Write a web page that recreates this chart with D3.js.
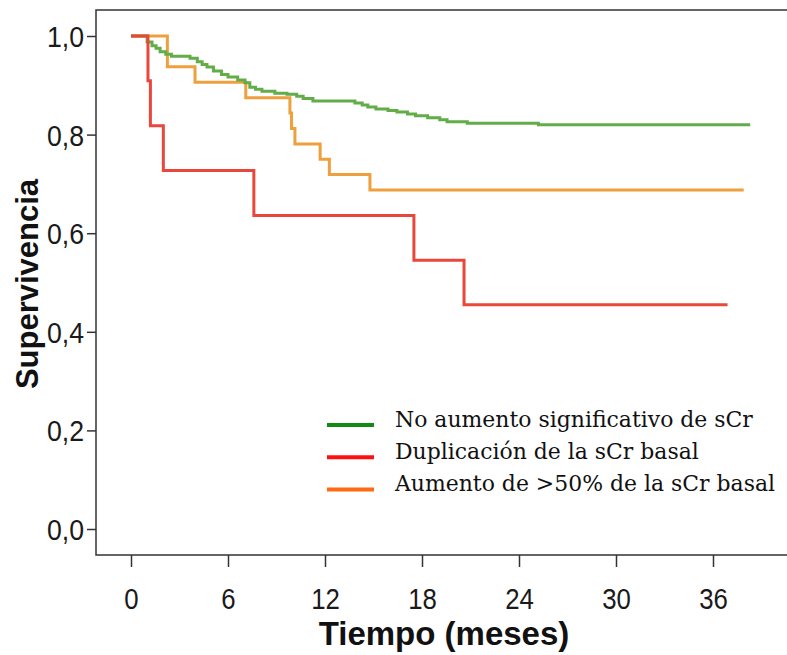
<!DOCTYPE html>
<html>
<head>
<meta charset="utf-8">
<script src="https://cdn.jsdelivr.net/npm/d3@7"></script>
<style>
  body { margin: 0; background: #fff; }
  svg { display: block; }
</style>
</head>
<body>
<div id="chart"></div>
<script>
// Kaplan-Meier curves: step times (months) and survival after each step
var greenTimes = [0, 1.0, 1.3, 1.55, 1.8, 2.15, 2.5, 3.65, 4.1, 4.4, 4.7, 5.1, 5.6, 6.0, 6.6, 7.05, 7.35, 7.7, 8.1, 8.9, 9.65, 10.25, 10.65, 11.25, 13.85, 14.3, 14.65, 15.15, 15.9, 16.45, 17.1, 17.6, 18.35, 19.1, 19.55, 20.8, 25.2, 38.3];
var greenSurv  = [1, 0.988, 0.98, 0.975, 0.968, 0.963, 0.959, 0.955, 0.948, 0.942, 0.937, 0.929, 0.922, 0.917, 0.911, 0.905, 0.896, 0.892, 0.888, 0.884, 0.882, 0.878, 0.873, 0.868, 0.864, 0.86, 0.856, 0.852, 0.849, 0.846, 0.842, 0.838, 0.834, 0.83, 0.826, 0.823, 0.82, 0.82];

var redTimes = [0, 1.05, 1.2, 2.0, 7.6, 17.5, 20.6, 36.9];
var redSurv  = [1, 0.909, 0.818, 0.727, 0.636, 0.545, 0.455, 0.455];

var orangeTimes = [0, 2.25, 3.96, 7.1, 9.83, 9.93, 10.14, 11.7, 12.27, 14.78, 37.9];
var orangeSurv  = [1, 0.9375, 0.906, 0.875, 0.844, 0.8125, 0.781, 0.75, 0.719, 0.6875, 0.6875];

var xTicks = [0, 6, 12, 18, 24, 30, 36];
var yTicks = [0, 0.2, 0.4, 0.6, 0.8, 1.0];

var legendLabels = ["No aumento significativo de sCr", "Duplicación de la sCr basal", "Aumento de >50% de la sCr basal"];
var legendColors = ["#138a13", "#ff1010", "#ff6a10"];

var width = 787, height = 655;
var frame = { left: 96, top: 10, bottom: 555 };
var sansFont = "'Liberation Sans', Arial, sans-serif";

var xScale = d3.scaleLinear().domain([0, 36]).range([131, 713]);
var yScale = d3.scaleLinear().domain([0, 1]).range([529, 36]);

var svg = d3.select("#chart").append("svg")
    .attr("width", width)
    .attr("height", height);

var defs = svg.append("defs");
var blur = defs.append("filter").attr("id", "shadow")
    .attr("x", "-20%").attr("y", "-200%").attr("width", "140%").attr("height", "500%");
blur.append("feGaussianBlur").attr("stdDeviation", 2);

// frame (right side runs off the picture)
svg.append("path")
    .attr("d", "M800," + frame.top + "H" + frame.left + "V" + frame.bottom + "H800")
    .attr("fill", "none")
    .attr("stroke", "#333")
    .attr("stroke-width", 1.5);

// axes
var yAxis = d3.axisLeft(yScale)
    .tickValues(yTicks)
    .tickSize(9)
    .tickFormat(function(d){ return d3.format(".1f")(d).replace(".", ","); });

var gy = svg.append("g")
    .attr("transform", "translate(" + frame.left + ",0)")
    .call(yAxis);
gy.select(".domain").remove();
gy.selectAll("line").attr("stroke", "#333").attr("stroke-width", 1.5);
gy.selectAll("text")
    .attr("x", 0)
    .attr("dy", "0.36em")
    .attr("transform", "translate(-12,0) scale(0.92,1)")
    .attr("fill", "#1a1a1a")
    .style("font-family", sansFont)
    .style("font-size", "29px");

var xAxis = d3.axisBottom(xScale)
    .tickValues(xTicks)
    .tickSize(12);

var gx = svg.append("g")
    .attr("transform", "translate(0," + frame.bottom + ")")
    .call(xAxis);
gx.select(".domain").remove();
gx.selectAll("line").attr("stroke", "#333").attr("stroke-width", 1.5);
gx.selectAll("text")
    .attr("y", 54)
    .attr("dy", 0)
    .attr("transform", "scale(0.86,1)")
    .attr("fill", "#1a1a1a")
    .style("font-family", sansFont)
    .style("font-size", "30px");

// axis titles
svg.append("text")
    .attr("transform", "translate(38,284) rotate(-90)")
    .attr("text-anchor", "middle")
    .style("font-family", sansFont)
    .style("font-weight", "bold")
    .style("font-size", "31px")
    .attr("fill", "#111")
    .text("Supervivencia");

svg.append("text")
    .attr("x", 444)
    .attr("y", 645)
    .attr("text-anchor", "middle")
    .style("font-family", sansFont)
    .style("font-weight", "bold")
    .style("font-size", "33px")
    .attr("fill", "#111")
    .text("Tiempo (meses)");

// curves
var line = d3.line()
    .x(function(d){ return xScale(d[0]); })
    .y(function(d){ return yScale(d[1]); })
    .curve(d3.curveStepAfter);

var curves = [
    { times: orangeTimes, surv: orangeSurv, color: "#eea03c" },
    { times: greenTimes, surv: greenSurv, color: "#62ad48" },
    { times: redTimes, surv: redSurv, color: "#e9473b" }
];

curves.forEach(function(c){
    var pts = c.times.map(function(t, i){ return [t, c.surv[i]]; });
    svg.append("path")
        .datum(pts)
        .attr("d", line)
        .attr("fill", "none")
        .attr("stroke", c.color)
        .attr("stroke-width", 3);
});

// legend
var legend = svg.append("g").attr("transform", "translate(327,425)");
var legendText = [];
legendLabels.forEach(function(label, i){
    var g = legend.append("g").attr("transform", "translate(0," + (i * 32.2) + ")");
    g.append("line")
        .attr("x1", 1).attr("x2", 48).attr("y1", 6).attr("y2", 6)
        .attr("stroke", "#999")
        .attr("stroke-width", 4)
        .attr("filter", "url(#shadow)");
    g.append("line")
        .attr("x1", 0).attr("x2", 47).attr("y1", 0).attr("y2", 0)
        .attr("stroke", legendColors[i])
        .attr("stroke-width", 4);
    legendText.push(g.append("text")
        .attr("x", 0)
        .attr("y", 2)
        .attr("fill", "#111")
        .style("font-family", "'DejaVu Serif', serif")
        .style("font-size", "23px")
        .text(label));
});
// squeeze the serif text to the width of the original legend
var k = 358 / legendText[0].node().getComputedTextLength();
legendText.forEach(function(t){
    t.attr("transform", "translate(68,0) scale(" + k + ",1)");
});
</script>
</body>
</html>
